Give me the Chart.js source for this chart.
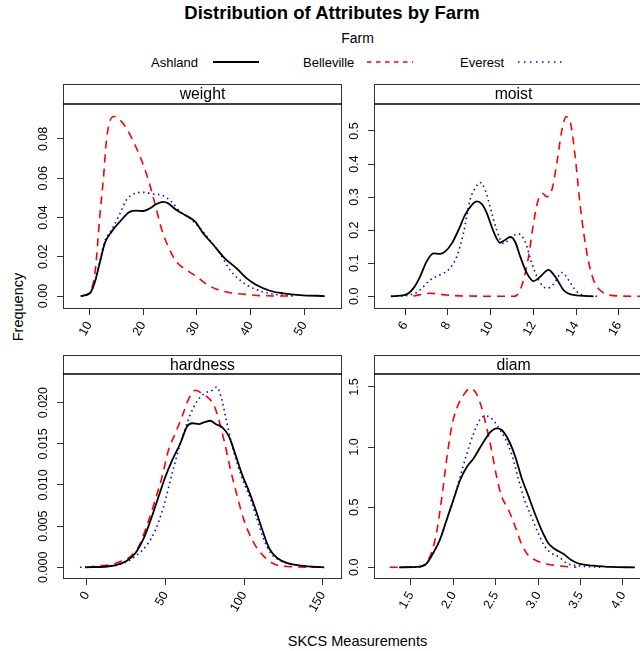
<!DOCTYPE html>
<html>
<head>
<meta charset="utf-8">
<script src="https://cdn.jsdelivr.net/npm/chart.js@4.4.1/dist/chart.umd.min.js"></script>
<style>
  body { margin: 0; width: 640px; height: 651px; overflow: hidden; background: #fff; position: relative;
         font-family: "Liberation Sans", Arial, sans-serif; color: #000; }
  .txt { position: absolute; line-height: 1; white-space: nowrap; }
  canvas { position: absolute; }
</style>
</head>
<body>
<div class="txt" style="left:0; width:664px; text-align:center; top:4px; font-size:18.5px; font-weight:bold;">Distribution of Attributes by Farm</div>
<div class="txt" style="left:0; width:715px; text-align:center; top:31px; font-size:14px;">Farm</div>
<div id="legend"></div>
<div class="txt" style="left:18px; top:307px; font-size:14.5px; transform:translate(-50%,-50%) rotate(-90deg);">Frequency</div>
<div class="txt" style="left:0; width:715px; text-align:center; top:634px; font-size:14.5px;">SKCS Measurements</div>

<canvas id="weight" width="319" height="265" style="left:23px; top:84px;"></canvas>
<canvas id="moist" width="319" height="265" style="left:334px; top:84px;"></canvas>
<canvas id="hardness" width="319" height="264" style="left:23px; top:355px;"></canvas>
<canvas id="diam" width="319" height="264" style="left:334px; top:355px;"></canvas>

<script>
// farms
const farms = ['Ashland', 'Belleville', 'Everest'];

// weight
const weightAshlandX = [8.4, 10.1, 11.05, 12, 12.9, 14.15, 15.7, 17.6, 18.8, 20, 21.3, 22.5, 23.8, 24.7, 26.2, 27.8, 29.7, 31.2, 33.1, 35.2, 37.4, 39.3, 41.1, 43.6, 46.1, 49.2, 53.8];
const weightAshlandY = [0, 0.0014, 0.0073, 0.0175, 0.027, 0.0328, 0.0379, 0.043, 0.0435, 0.0433, 0.0447, 0.0469, 0.048, 0.0472, 0.0438, 0.0413, 0.0379, 0.0319, 0.026, 0.0192, 0.0141, 0.009, 0.0056, 0.0027, 0.0014, 0.0005, 0];
const weightBellevilleX = [8.6, 10.1, 11.05, 12, 12.6, 13.2, 13.8, 14.6, 15.7, 16.9, 18.5, 19.7, 21, 22.2, 23.5, 24.7, 26.2, 28.1, 30, 31.8, 33.7, 36.2, 39.3, 41.8, 48];
const weightBellevilleY = [0, 0.0022, 0.0115, 0.042, 0.059, 0.0795, 0.0888, 0.0914, 0.0897, 0.0854, 0.077, 0.0693, 0.059, 0.0472, 0.0336, 0.0251, 0.0175, 0.0132, 0.0099, 0.0061, 0.0034, 0.0017, 0.0008, 0.0002, 0];
const weightEverestX = [8.4, 10.1, 11.05, 12, 12.9, 14.15, 15.7, 16.9, 18.5, 20, 21.9, 23.8, 25.3, 26.9, 28.7, 30.6, 32.4, 34.3, 36.2, 38, 40.5, 44.2, 48];
const weightEverestY = [0, 0.0014, 0.0073, 0.018, 0.028, 0.0336, 0.042, 0.0489, 0.0523, 0.0528, 0.052, 0.051, 0.048, 0.043, 0.0396, 0.0345, 0.0285, 0.0217, 0.0132, 0.0082, 0.0039, 0.001, 0];

// moist
const moistAshlandX = [5.34, 6, 6.39, 6.7, 7.01, 7.33, 7.64, 7.87, 8.19, 8.5, 8.81, 9.12, 9.36, 9.59, 9.83, 10.14, 10.45, 10.68, 10.92, 11.15, 11.39, 11.7, 12.01, 12.32, 12.71, 13.03, 13.42, 13.88, 14.82];
const moistAshlandY = [0, 0.004, 0.024, 0.059, 0.105, 0.13, 0.128, 0.135, 0.16, 0.2, 0.246, 0.276, 0.287, 0.279, 0.251, 0.196, 0.162, 0.17, 0.18, 0.165, 0.12, 0.07, 0.046, 0.059, 0.08, 0.059, 0.019, 0.004, 0];
const moistBellevilleX = [6.39, 7.17, 7.95, 8.73, 11.07, 11.31, 11.54, 11.78, 12.01, 12.25, 12.43, 12.64, 12.87, 13.1, 13.34, 13.54, 13.73, 13.96, 14.2, 14.51, 14.82, 15.21, 15.76, 16.85, 17.6];
const moistBellevilleY = [0.001, 0.009, 0.004, 0.001, 0, 0.009, 0.049, 0.12, 0.221, 0.296, 0.311, 0.301, 0.322, 0.402, 0.503, 0.543, 0.528, 0.422, 0.271, 0.13, 0.049, 0.014, 0.002, 0, 0];
const moistEverestX = [5.34, 6.23, 6.7, 7.17, 7.64, 8.03, 8.42, 8.73, 9.04, 9.28, 9.51, 9.75, 10.06, 10.29, 10.61, 11, 11.31, 11.62, 11.93, 12.25, 12.64, 12.95, 13.34, 13.65, 14.04, 14.51, 14.98];
const moistEverestY = [0, 0.004, 0.019, 0.049, 0.065, 0.08, 0.12, 0.19, 0.291, 0.327, 0.344, 0.322, 0.251, 0.2, 0.16, 0.18, 0.189, 0.165, 0.1, 0.049, 0.024, 0.037, 0.072, 0.049, 0.014, 0.001, 0];

// hardness
const hardnessAshlandX = [-1, 12.8, 19.1, 25.5, 30.9, 36.2, 41.5, 45.7, 50, 54.3, 59.6, 63.8, 67, 71.3, 74.5, 78.7, 81.9, 86.2, 90.4, 94.7, 98.9, 103.2, 107.4, 111.7, 116, 121.3, 127.7, 136.2, 151];
const hardnessAshlandY = [0, 0.0001, 0.0003, 0.0008, 0.0017, 0.0035, 0.0062, 0.0086, 0.011, 0.013, 0.0151, 0.0171, 0.0175, 0.0174, 0.0176, 0.0178, 0.0174, 0.017, 0.0159, 0.0136, 0.0112, 0.0092, 0.007, 0.0045, 0.0023, 0.0011, 0.0005, 0.0002, 0];
const hardnessBellevilleX = [0, 8.5, 14.9, 21.3, 27.7, 33, 38.3, 43.6, 47.9, 52.1, 56.4, 60.6, 64.9, 69.1, 73.4, 77.7, 80.9, 84, 87.2, 91.5, 95.7, 100, 106.4, 112.8, 119.1, 127.7, 150];
const hardnessBellevilleY = [0, 0.0002, 0.0003, 0.0007, 0.0013, 0.0025, 0.0051, 0.0082, 0.011, 0.0143, 0.0163, 0.0183, 0.0205, 0.0215, 0.0211, 0.0205, 0.0197, 0.0179, 0.0155, 0.0118, 0.0086, 0.0057, 0.0029, 0.0013, 0.0004, 0.0001, 0];
const hardnessEverestX = [-4.3, 12.8, 23.4, 31.9, 38.3, 43.6, 48.9, 54.3, 59.6, 63.8, 68.1, 72.3, 76.6, 79.8, 82.6, 85.1, 88.3, 91.5, 95.7, 100, 104.3, 108.5, 112.8, 117, 123.4, 131.9, 148.9];
const hardnessEverestY = [0, 0.0001, 0.0005, 0.0015, 0.0027, 0.0045, 0.0074, 0.0114, 0.0151, 0.0175, 0.0195, 0.0207, 0.0213, 0.0215, 0.0219, 0.0209, 0.0183, 0.0155, 0.0126, 0.0102, 0.0082, 0.0057, 0.0033, 0.0017, 0.0008, 0.0003, 0];

// diam
const diamAshlandX = [1.36, 1.61, 1.68, 1.76, 1.84, 1.92, 2.0, 2.08, 2.16, 2.24, 2.31, 2.37, 2.43, 2.51, 2.57, 2.65, 2.73, 2.8, 2.88, 2.96, 3.04, 3.12, 3.2, 3.3, 3.39, 3.49, 3.65, 3.85, 4.14];
const diamAshlandY = [0, 0.006, 0.028, 0.116, 0.227, 0.394, 0.56, 0.726, 0.837, 0.907, 0.99, 1.059, 1.12, 1.156, 1.142, 1.059, 0.92, 0.754, 0.602, 0.449, 0.31, 0.2, 0.15, 0.111, 0.061, 0.028, 0.014, 0.003, 0];
const diamBellevilleX = [1.25, 1.61, 1.68, 1.74, 1.8, 1.86, 1.92, 1.98, 2.04, 2.12, 2.2, 2.27, 2.33, 2.39, 2.45, 2.51, 2.57, 2.65, 2.73, 2.8, 2.88, 2.98, 3.1, 3.26, 3.45];
const diamBellevilleY = [0, 0.006, 0.039, 0.116, 0.283, 0.56, 0.893, 1.17, 1.322, 1.433, 1.489, 1.447, 1.336, 1.17, 0.976, 0.754, 0.588, 0.477, 0.338, 0.2, 0.103, 0.055, 0.028, 0.011, 0];
const diamEverestX = [1.37, 1.61, 1.68, 1.76, 1.84, 1.92, 2.0, 2.08, 2.16, 2.24, 2.31, 2.39, 2.47, 2.53, 2.61, 2.69, 2.77, 2.84, 2.92, 3.0, 3.08, 3.16, 3.24, 3.34, 3.49, 3.77];
const diamEverestY = [0, 0.006, 0.028, 0.116, 0.227, 0.394, 0.56, 0.754, 0.948, 1.115, 1.225, 1.259, 1.225, 1.164, 1.073, 0.934, 0.726, 0.56, 0.421, 0.283, 0.172, 0.116, 0.089, 0.033, 0.011, 0];

// tick values
const weightXTicks = [10, 20, 30, 40, 50];
const weightYTicks = [0, 0.02, 0.04, 0.06, 0.08];
const moistXTicks = [6, 8, 10, 12, 14, 16];
const moistYTicks = [0, 0.1, 0.2, 0.3, 0.4, 0.5];
const hardnessXTicks = [0, 50, 100, 150];
const hardnessYTicks = [0, 0.005, 0.01, 0.015, 0.02];
const diamXTicks = [1.5, 2.0, 2.5, 3.0, 3.5, 4.0];
const diamYTicks = [0, 0.5, 1.0, 1.5];

// line styles per farm
const farmColors = ['#000000', '#ff0000', '#0000ff'];
const farmWidths = [1.8, 1.6, 1.6];
const farmDashes = [[], [8, 6], [1.5, 3.5]];
const FONT = '"Liberation Sans", Arial, sans-serif';

// legend (text, then line sample)
const legendTextX = [151, 303, 460];
const legendLineX = [213, 367, 518];
const legendSvgDash = ['', '4.5 4.5', '1.5 4.5'];
var legendHtml = '';
for (var i = 0; i < farms.length; i++) {
  legendHtml += '<div class="txt" style="left:' + legendTextX[i] + 'px; top:56px; font-size:13px;">' + farms[i] + '</div>';
  legendHtml += '<svg style="position:absolute; left:' + legendLineX[i] + 'px; top:59px;" width="46" height="6">' +
    '<line x1="0" y1="3" x2="46" y2="3" stroke="' + farmColors[i] + '" stroke-width="' + (i == 0 ? 2 : 1.6) + '"' +
    (legendSvgDash[i] ? ' stroke-dasharray="' + legendSvgDash[i] + '"' : '') + '/></svg>';
}
document.getElementById('legend').innerHTML = legendHtml;

// frame, strip and rotated y labels for each lattice panel
const framePlugin = {
  id: 'panelFrame',
  afterDraw: function (chart, args, opts) {
    const ctx = chart.ctx;
    const a = chart.chartArea;
    const sh = opts.stripHeight;
    ctx.save();
    ctx.strokeStyle = '#333';
    ctx.lineWidth = 1;
    ctx.strokeRect(a.left + 0.5, a.top - sh + 0.5, a.right - a.left - 1, a.bottom - a.top + sh - 1);
    ctx.strokeStyle = '#000';
    ctx.lineWidth = 1.6;
    ctx.beginPath();
    ctx.moveTo(a.left, a.top);
    ctx.lineTo(a.right, a.top);
    ctx.stroke();

    ctx.fillStyle = '#000';
    ctx.font = '15.8px ' + FONT;
    ctx.textAlign = 'center';
    ctx.textBaseline = 'alphabetic';
    ctx.fillText(opts.label, (a.left + a.right) / 2, a.top - sh + 15.3);

    const ys = chart.scales.y;
    ctx.font = '12.5px ' + FONT;
    ctx.textBaseline = 'middle';
    ys.ticks.forEach(function (t) {
      ctx.save();
      ctx.translate(a.left - 19, ys.getPixelForValue(t.value));
      ctx.rotate(-Math.PI / 2);
      ctx.fillText(t.value.toFixed(opts.yDecimals), 0, 0);
      ctx.restore();
    });
    ctx.restore();
  }
};

function panel(id, label, xs, ys, xRange, yRange, xTicks, yTicks, xDec, yDec, stripH) {
  const datasets = [];
  for (let i = 0; i < farms.length; i++) {
    datasets.push({
      label: farms[i],
      data: xs[i].map(function (x, j) { return { x: x, y: ys[i][j] }; }),
      borderColor: farmColors[i],
      borderWidth: farmWidths[i],
      borderDash: farmDashes[i],
      pointRadius: 0,
      cubicInterpolationMode: 'monotone',
      fill: false
    });
  }
  const grid = { drawOnChartArea: false, drawTicks: true, tickLength: 6, color: '#333', lineWidth: 1 };
  return new Chart(document.getElementById(id), {
    type: 'line',
    data: { datasets: datasets },
    options: {
      responsive: false,
      animation: false,
      devicePixelRatio: 1,
      layout: { padding: { top: stripH, left: 0, right: 0, bottom: 0 } },
      plugins: {
        legend: { display: false },
        tooltip: { enabled: false },
        panelFrame: { label: label, stripHeight: stripH, yDecimals: yDec }
      },
      scales: {
        x: {
          type: 'linear', min: xRange[0], max: xRange[1],
          afterBuildTicks: function (axis) { axis.ticks = xTicks.map(function (v) { return { value: v }; }); },
          afterFit: function (axis) { axis.height = 40; },
          grid: grid,
          border: { display: false },
          ticks: {
            autoSkip: false, minRotation: 60, maxRotation: 60, padding: 4, color: '#000',
            font: { size: 12.5, family: FONT },
            callback: function (v) { return v.toFixed(xDec); }
          }
        },
        y: {
          type: 'linear', min: yRange[0], max: yRange[1],
          afterBuildTicks: function (axis) { axis.ticks = yTicks.map(function (v) { return { value: v }; }); },
          afterFit: function (axis) { axis.width = 40; },
          grid: grid,
          border: { display: false },
          ticks: { display: false }
        }
      }
    },
    plugins: [framePlugin]
  });
}

panel('weight', 'weight',
  [weightAshlandX, weightBellevilleX, weightEverestX],
  [weightAshlandY, weightBellevilleY, weightEverestY],
  [5.11, 57.01], [-0.0066, 0.0978], weightXTicks, weightYTicks, 0, 2, 20);
panel('moist', 'moist',
  [moistAshlandX, moistBellevilleX, moistEverestX],
  [moistAshlandY, moistBellevilleY, moistEverestY],
  [4.55, 17.6], [-0.0384, 0.5815], moistXTicks, moistYTicks, 0, 1, 20);
panel('hardness', 'hardness',
  [hardnessAshlandX, hardnessBellevilleX, hardnessEverestX],
  [hardnessAshlandY, hardnessBellevilleY, hardnessEverestY],
  [-15.06, 162.27], [-0.00142, 0.02348], hardnessXTicks, hardnessYTicks, 0, 3, 19);
panel('diam', 'diam',
  [diamAshlandX, diamBellevilleX, diamEverestX],
  [diamAshlandY, diamBellevilleY, diamEverestY],
  [1.064, 4.354], [-0.0973, 1.608], diamXTicks, diamYTicks, 1, 1, 19);
</script>
</body>
</html>
